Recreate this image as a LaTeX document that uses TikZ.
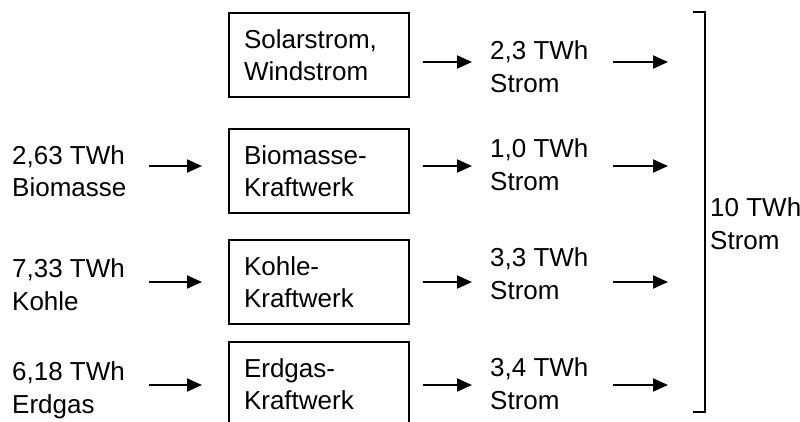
\documentclass[tikz,border=0pt]{standalone}
\usepackage{fontspec}
\setmainfont{Liberation Sans}
\usetikzlibrary{arrows.meta,calc}
\begin{document}
\begin{tikzpicture}[x=1pt,y=-1pt,
  txt/.style={font=\fontsize{26}{32.5}\selectfont, inner sep=0pt, align=left, anchor=base west},
  plant/.style={draw, line width=2pt, font=\fontsize{26}{32.5}\selectfont, minimum width=180pt, minimum height=84pt, text width=150pt, inner xsep=15pt, inner ysep=0pt, align=left, anchor=north west},
  arr/.style={line width=2pt, -{Triangle[length=15pt,width=13pt]}},
  brk/.style={line width=2pt}]
\useasboundingbox (0,0) rectangle (800,421);
\clip (0,0) rectangle (800,421);
% row levels of the arrows
\coordinate (y1) at (0,62);
\coordinate (y2) at (0,166);
\coordinate (y3) at (0,282);
\coordinate (y4) at (0,385);
% power plants
\node[plant] (b1) at (228,12)  {Solarstrom,\\Windstrom};
\node[plant] (b2) at (228,128) {Biomasse-\\Kraftwerk};
\node[plant] (b3) at (228,239) {Kohle-\\Kraftwerk};
\node[plant] (b4) at (228,341) {Erdgas-\\Kraftwerk};
% inputs (anchored at the baseline of the last line)
\node[txt] (l2) at (12,196.5) {2,63 TWh\\Biomasse};
\node[txt] (l3) at (12,310)   {7,33 TWh\\Kohle};
\node[txt] (l4) at (12,413)   {6,18 TWh\\Erdgas};
% outputs
\node[txt] (m1) at (490,92)  {2,3 TWh\\Strom};
\node[txt] (m2) at (490,190) {1,0 TWh\\Strom};
\node[txt] (m3) at (490,299) {3,3 TWh\\Strom};
\node[txt] (m4) at (490,409) {3,4 TWh\\Strom};
% total
\coordinate (bt) at (705,12);
\coordinate (bb) at (705,412);
\draw[brk] ($(bt)+(-12,0)$) -- (bt) -- (bb) -- ($(bb)+(-12,0)$);
\node[txt] (tot) at (710,249) {10 TWh\\Strom};
% input arrows
\foreach \r in {2,3,4}{
  \draw[arr] ($(b\r.west |- y\r)+(-79,0)$) -- ($(b\r.west |- y\r)+(-26,0)$);
}
% output arrows
\foreach \r in {1,2,3,4}{
  \draw[arr] ($(b\r.east |- y\r)+(13,0)$) -- ($(m\r.west |- y\r)+(-18,0)$);
  \draw[arr] ($(m\r.west |- y\r)+(123,0)$) -- ($(bt |- y\r)+(-37,0)$);
}
\end{tikzpicture}
\end{document}
